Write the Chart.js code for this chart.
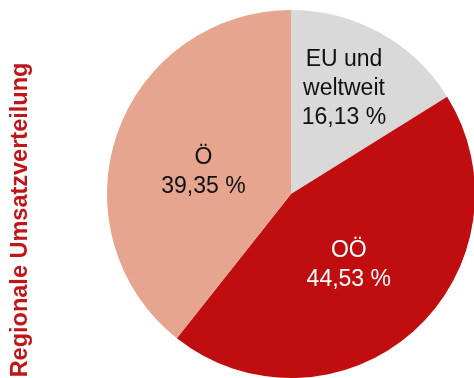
<!DOCTYPE html>
<html>
<head>
<meta charset="utf-8">
<script src="https://cdn.jsdelivr.net/npm/chart.js@4/dist/chart.umd.min.js"></script>
<style>
html,body{margin:0;padding:0;background:#fff;overflow:hidden;width:474px;height:378px;}
#wrap{position:absolute;left:0;top:0;width:482px;height:378px;}
</style>
</head>
<body>
<div id="wrap"><canvas id="c"></canvas></div>
<script>
const categories = [["EU und", "weltweit"], ["OÖ"], ["Ö"]];
const values = [16.13, 44.53, 39.35];
const colors = ["#d9d9d9", "#c00e10", "#e6a58e"];
const labelColors = ["#111111", "#ffffff", "#111111"];
const labelRadius = [0.64, 0.50, 0.49];
const labelAngleShift = [-0.04, 0.05, -0.095];
const titleText = "Regionale Umsatzverteilung";

const fmt = v => v.toFixed(2).replace('.', ',') + ' %';

const labelPlugin = {
  id: 'sliceLabels',
  afterDatasetsDraw(chart) {
    const ctx = chart.ctx;
    const meta = chart.getDatasetMeta(0);
    ctx.save();
    ctx.font = '23px "Liberation Sans", Arial, sans-serif';
    ctx.textAlign = 'center';
    ctx.textBaseline = 'middle';
    meta.data.forEach((arc, i) => {
      const p = arc.getProps(['x','y','startAngle','endAngle','outerRadius'], true);
      const mid = (p.startAngle + p.endAngle) / 2 + labelAngleShift[i];
      const r = p.outerRadius * labelRadius[i];
      const cx = p.x + Math.cos(mid) * r;
      const cy = p.y + Math.sin(mid) * r;
      const lines = categories[i].concat([fmt(values[i])]);
      const lh = 29;
      const y0 = cy - (lines.length - 1) * lh / 2;
      ctx.fillStyle = labelColors[i];
      lines.forEach((t, k) => ctx.fillText(t, cx, y0 + k * lh));
    });
    ctx.restore();
  }
};

const titlePlugin = {
  id: 'sideTitle',
  afterDraw(chart) {
    const ctx = chart.ctx;
    ctx.save();
    ctx.translate(27, 220);
    ctx.rotate(-Math.PI / 2);
    ctx.font = 'bold 23.5px "Liberation Sans", Arial, sans-serif';
    ctx.fillStyle = '#c0161a';
    ctx.textAlign = 'center';
    ctx.textBaseline = 'alphabetic';
    ctx.fillText(titleText, 0, 0);
    ctx.restore();
  }
};

new Chart(document.getElementById('c'), {
  type: 'pie',
  data: {
    labels: categories.map(c => c.join(' ')),
    datasets: [{
      data: values,
      backgroundColor: colors,
      borderWidth: 0
    }]
  },
  options: {
    responsive: true,
    maintainAspectRatio: false,
    animation: false,
    layout: { padding: { top: 10, bottom: 0, left: 107, right: 7 } },
    plugins: {
      legend: { display: false },
      tooltip: { enabled: false },
      title: { display: false }
    }
  },
  plugins: [labelPlugin, titlePlugin]
});
</script>
</body>
</html>
